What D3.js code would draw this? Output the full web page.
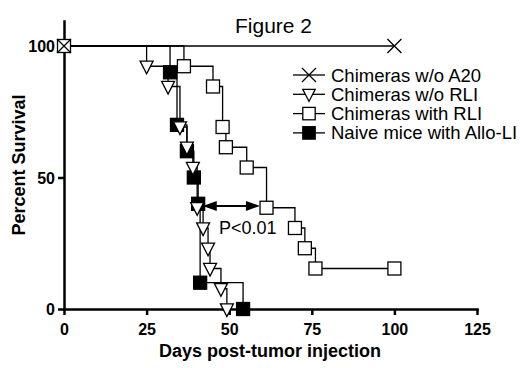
<!DOCTYPE html>
<html lang="en">
<head>
  <meta charset="UTF-8">
  <title>Figure 2</title>
  <script src="https://d3js.org/d3.v7.min.js"></script>
  <style>
    body { margin: 0; background: #fff; }
    text { font-family: "Liberation Sans", Arial, sans-serif; fill: #000; }
    .tick text { font-size: 16px; font-weight: bold; }
    .axis path, .axis line { stroke: #000; stroke-width: 2.5px; }
    .step { fill: none; stroke: #000; stroke-width: 1.3px; }
  </style>
</head>
<body>
  <svg width="520" height="368"></svg>

  <script>
    // Survival data (days, percent surviving)
    const a20Days = [0, 100];
    const a20Surv = [100, 100];

    const noRliDays = [0, 25.0, 31.5, 35.1, 37.2, 39.0, 40.3, 42.1, 43.6, 44.2, 47.5, 49.3];
    const noRliSurv = [100, 92.3, 84.6, 69.2, 61.5, 53.8, 38.5, 30.8, 23.1, 15.4, 7.7, 0];

    const rliDays = [0, 36.3, 45.1, 48.0, 49.0, 55.3, 61.3, 69.9, 72.9, 76.1, 100];
    const rliSurv = [100, 92.3, 84.6, 69.2, 61.5, 53.8, 38.5, 30.8, 23.1, 15.4, 15.4];

    const naiveDays = [0, 32.1, 34.2, 37.2, 39.3, 40.6, 41.2, 54.2];
    const naiveSurv = [100, 90, 70, 60, 50, 40, 10, 0];

    const seriesNames = ["Chimeras w/o A20", "Chimeras w/o RLI", "Chimeras with RLI", "Naive mice with Allo-LI"];
    const xTicks = [0, 25, 50, 75, 100, 125];
    const yTicks = [0, 50, 100];

    // significance arrow
    const arrowDays = [42.0, 59.3];
    const arrowSurv = 39.2;

    const svg = d3.select("svg");

    const x = d3.scaleLinear().domain([0, 125]).range([64, 477]);
    const y = d3.scaleLinear().domain([0, 109.5]).range([309, 21]);

    // Axes
    svg.append("g")
      .attr("class", "axis")
      .attr("transform", "translate(0,309)")
      .call(d3.axisBottom(x).tickValues(xTicks).tickSize(6).tickSizeOuter(0).tickPadding(4))
      .selectAll(".tick text").attr("dy", "1em");

    svg.append("g")
      .attr("class", "axis")
      .attr("transform", "translate(64,0)")
      .call(d3.axisLeft(y).tickValues(yTicks).tickSize(6).tickSizeOuter(0).tickPadding(3))
      .selectAll(".tick text").attr("dy", "0.36em");

    svg.selectAll(".axis .domain").attr("stroke-linecap", "square");

    // Symbols
    const sym = {
      cross: (g, s) => g.append("path")
        .attr("d", `M${-s},${-s}L${s},${s}M${s},${-s}L${-s},${s}`)
        .attr("stroke", "#000").attr("stroke-width", 1.3).attr("fill", "none"),
      tri: (g, s) => g.append("path")
        .attr("d", `M${-s},${-s * 0.8}L${s},${-s * 0.8}L0,${s * 1.15}Z`)
        .attr("stroke", "#000").attr("stroke-width", 1.3).attr("fill", "#fff"),
      open: (g, s) => g.append("rect")
        .attr("x", -s).attr("y", -s).attr("width", 2 * s).attr("height", 2 * s)
        .attr("stroke", "#000").attr("stroke-width", 1.3).attr("fill", "#fff"),
      filled: (g, s) => g.append("rect")
        .attr("x", -s).attr("y", -s).attr("width", 2 * s).attr("height", 2 * s)
        .attr("stroke", "#000").attr("stroke-width", 1.3).attr("fill", "#000")
    };

    const series = [
      { days: a20Days, surv: a20Surv, shape: "cross", from: 0 },
      { days: rliDays, surv: rliSurv, shape: "open", from: 0 },
      { days: naiveDays, surv: naiveSurv, shape: "filled", from: 1 },
      { days: noRliDays, surv: noRliSurv, shape: "tri", from: 1 }
    ];

    const line = d3.line().curve(d3.curveStepAfter).x(d => x(d[0])).y(d => y(d[1]));

    series.forEach(s => {
      const pts = s.days.map((d, i) => [d, s.surv[i]]);
      svg.append("path").attr("class", "step").attr("d", line(pts));
    });

    // cross should sit over the square at day 0
    [series[1], series[2], series[3], series[0]].forEach(s => {
      s.days.forEach((d, i) => {
        if (i < s.from) return;
        const g = svg.append("g").attr("transform", `translate(${x(d)},${y(s.surv[i])})`);
        sym[s.shape](g, s.shape === "cross" ? 7 : 6.5);
      });
    });

    // Arrow
    const ay = y(arrowSurv);
    const ax0 = x(arrowDays[0]), ax1 = x(arrowDays[1]);
    svg.append("line")
      .attr("x1", ax0 + 6).attr("x2", ax1 - 6).attr("y1", ay).attr("y2", ay)
      .attr("stroke", "#000").attr("stroke-width", 2);
    svg.append("path")
      .attr("d", `M${ax0},${ay}L${ax0 + 14},${ay - 5}L${ax0 + 14},${ay + 5}Z M${ax1},${ay}L${ax1 - 14},${ay - 5}L${ax1 - 14},${ay + 5}Z`)
      .attr("fill", "#000");

    svg.append("text")
      .attr("x", 219).attr("y", 234)
      .style("font-size", "18px")
      .text("P<0.01");

    // Legend
    const legendShapes = ["cross", "tri", "open", "filled"];
    seriesNames.forEach((name, i) => {
      const ly = 75 + i * 19.3;
      svg.append("line")
        .attr("x1", 293).attr("x2", 325).attr("y1", ly).attr("y2", ly)
        .attr("stroke", "#000").attr("stroke-width", 1.3);
      const g = svg.append("g").attr("transform", `translate(309,${ly})`);
      sym[legendShapes[i]](g, legendShapes[i] === "cross" ? 7 : 6.2);
      svg.append("text")
        .attr("x", 331).attr("y", ly + 6.5)
        .style("font-size", "18.5px")
        .text(name);
    });

    // Titles
    svg.append("text")
      .attr("x", 273.5).attr("y", 33)
      .attr("text-anchor", "middle")
      .style("font-size", "21px")
      .text("Figure 2");

    svg.append("text")
      .attr("x", 270).attr("y", 357)
      .attr("text-anchor", "middle")
      .style("font-size", "18px").style("font-weight", "bold")
      .text("Days post-tumor injection");

    svg.append("text")
      .attr("transform", "translate(25,165) rotate(-90)")
      .attr("text-anchor", "middle")
      .style("font-size", "18px").style("font-weight", "bold")
      .text("Percent Survival");
  </script>
</body>
</html>
